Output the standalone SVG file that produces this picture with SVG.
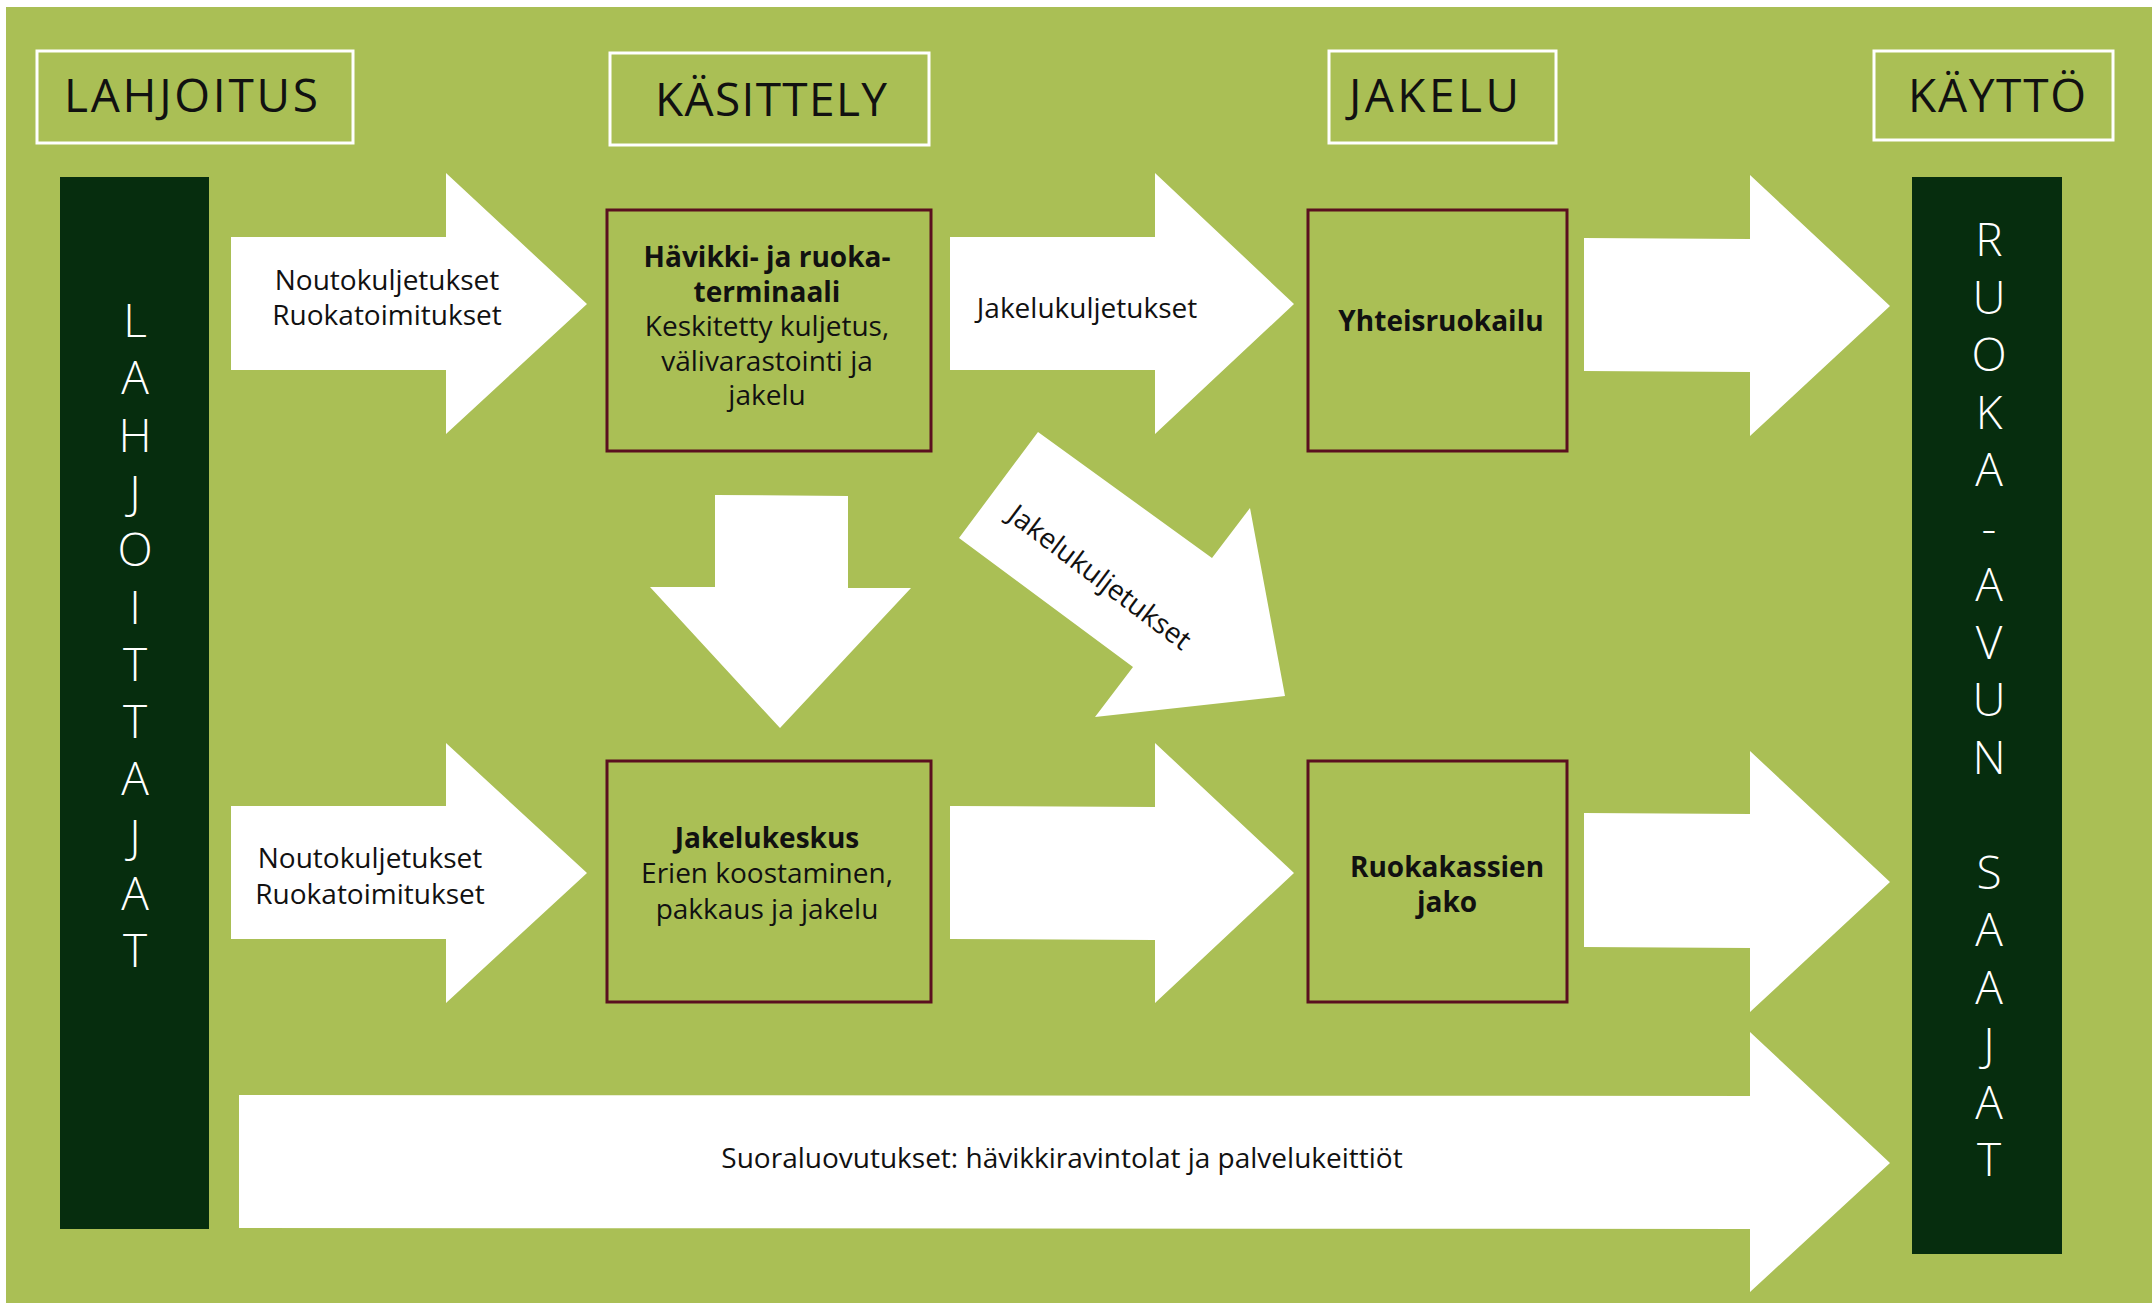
<svg xmlns="http://www.w3.org/2000/svg" width="2152" height="1303" viewBox="0 0 2152 1303">
<style>
.t{font-family:"Open Sans","Liberation Sans",sans-serif;fill:#111;}
.hdr{font-size:46px;text-anchor:middle;}
.hbox{fill:none;stroke:#fff;stroke-width:3;}
.node{fill:none;stroke:#5a0f1f;stroke-width:3;}
.bar{fill:#062d0e;}
.vl{font-family:"Open Sans","Liberation Sans",sans-serif;font-weight:300;font-size:46px;fill:#fff;text-anchor:middle;}
.arr{fill:#fff;}
.lbl{font-size:28px;text-anchor:middle;}
.b{font-weight:700;}
</style>
<rect x="0" y="0" width="2152" height="1303" fill="#fff"/>
<rect x="6" y="7" width="2146" height="1296" fill="#aabf55"/>

<g id="hdr-lahjoitus"><rect class="hbox" x="37" y="51" width="316" height="92"/><text class="t hdr" x="191" y="112" textLength="254">LAHJOITUS</text></g>
<g id="hdr-kasittely"><rect class="hbox" x="610" y="53" width="319" height="92"/><text class="t hdr" x="771" y="116" textLength="232">KÄSITTELY</text></g>
<g id="hdr-jakelu"><rect class="hbox" x="1329" y="51" width="227" height="92"/><text class="t hdr" x="1434" y="112" textLength="170">JAKELU</text></g>
<g id="hdr-kaytto"><rect class="hbox" x="1874" y="51" width="239" height="89"/><text class="t hdr" x="1997" y="112" textLength="178">KÄYTTÖ</text></g>

<g id="lahjoittajat">
<rect class="bar" x="60" y="177" width="149" height="1052"/>
<text class="vl">
<tspan x="135" y="337">L</tspan><tspan x="135" dy="57.3">A</tspan><tspan x="135" dy="57.3">H</tspan><tspan x="135" dy="57.3">J</tspan><tspan x="135" dy="57.3">O</tspan><tspan x="135" dy="57.3">I</tspan><tspan x="135" dy="57.3">T</tspan><tspan x="135" dy="57.3">T</tspan><tspan x="135" dy="57.3">A</tspan><tspan x="135" dy="57.3">J</tspan><tspan x="135" dy="57.3">A</tspan><tspan x="135" dy="57.3">T</tspan>
</text>
</g>

<g id="saajat">
<rect class="bar" x="1912" y="177" width="150" height="1077"/>
<text class="vl">
<tspan x="1989" y="256">R</tspan><tspan x="1989" dy="57.5">U</tspan><tspan x="1989" dy="57.5">O</tspan><tspan x="1989" dy="57.5">K</tspan><tspan x="1989" dy="57.5">A</tspan><tspan x="1989" dy="57.5">-</tspan><tspan x="1989" dy="57.5">A</tspan><tspan x="1989" dy="57.5">V</tspan><tspan x="1989" dy="57.5">U</tspan><tspan x="1989" dy="57.5">N</tspan><tspan x="1989" dy="115">S</tspan><tspan x="1989" dy="57.5">A</tspan><tspan x="1989" dy="57.5">A</tspan><tspan x="1989" dy="57.5">J</tspan><tspan x="1989" dy="57.5">A</tspan><tspan x="1989" dy="57.5">T</tspan>
</text>
</g>

<g id="terminaali">
<rect class="node" x="607" y="210" width="324" height="241"/>
<text class="t lbl b" x="767" y="267">Hävikki- ja ruoka-</text>
<text class="t lbl b" x="767" y="302">terminaali</text>
<text class="t lbl" x="767" y="336">Keskitetty kuljetus,</text>
<text class="t lbl" x="767" y="371">välivarastointi ja</text>
<text class="t lbl" x="767" y="405">jakelu</text>
</g>

<g id="yhteisruokailu">
<rect class="node" x="1308" y="210" width="259" height="241"/>
<text class="t lbl b" x="1441" y="331">Yhteisruokailu</text>
</g>

<g id="jakelukeskus">
<rect class="node" x="607" y="761" width="324" height="241"/>
<text class="t lbl b" x="767" y="848">Jakelukeskus</text>
<text class="t lbl" x="767" y="883">Erien koostaminen,</text>
<text class="t lbl" x="767" y="919">pakkaus ja jakelu</text>
</g>

<g id="ruokakassien-jako">
<rect class="node" x="1308" y="761" width="259" height="241"/>
<text class="t lbl b" x="1447" y="877">Ruokakassien</text>
<text class="t lbl b" x="1447" y="912">jako</text>
</g>

<g id="connectors">
<polygon class="arr" points="231,237 446,237 446,173 587,304 446,434 446,370 231,370"/>
<polygon class="arr" points="950,237 1155,237 1155,173 1294,304 1155,434 1155,370 950,370"/>
<polygon class="arr" points="1584,238 1750,239 1750,175 1890,306 1750,436 1750,372 1584,371"/>
<polygon class="arr" points="715,495 848,496 848,588 911,588 780,728 650,587 715,587"/>
<polygon class="arr" points="1038,432 1212,558 1250,508 1285,696 1095,717 1133,667 959,538"/>
<polygon class="arr" points="231,806 446,806 446,743 587,873 446,1003 446,939 231,939"/>
<polygon class="arr" points="950,806 1155,807 1155,743 1294,873 1155,1003 1155,940 950,939"/>
<polygon class="arr" points="1584,813 1750,814 1750,751 1890,882 1750,1012 1750,948 1584,947"/>
<polygon class="arr" points="239,1095 1750,1096 1750,1032 1890,1163 1750,1292 1750,1229 239,1228"/>
<text class="t lbl" x="387" y="290">Noutokuljetukset</text>
<text class="t lbl" x="387" y="325">Ruokatoimitukset</text>
<text class="t lbl" x="1087" y="318">Jakelukuljetukset</text>
<text class="t lbl" x="0" y="10" transform="translate(1100,577) rotate(37)">Jakelukuljetukset</text>
<text class="t lbl" x="370" y="868">Noutokuljetukset</text>
<text class="t lbl" x="370" y="904">Ruokatoimitukset</text>
<text class="t lbl" x="1062" y="1168">Suoraluovutukset: hävikkiravintolat ja palvelukeittiöt</text>
</g>
</svg>
